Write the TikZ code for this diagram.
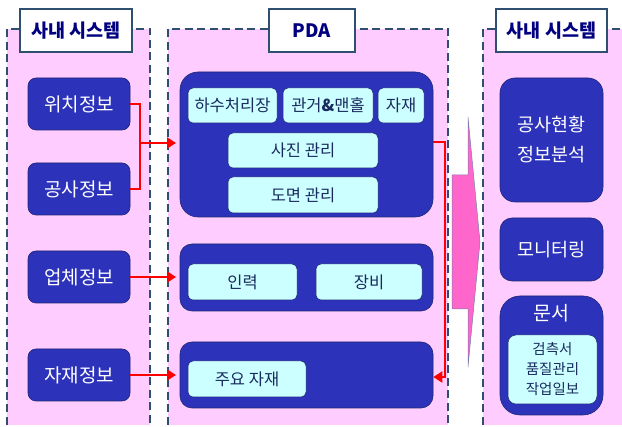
\documentclass[tikz,border=0pt]{standalone}
\usepackage{fontspec}
\setmainfont{Noto Sans CJK KR}
\usetikzlibrary{arrows.meta}
\definecolor{panelpink}{HTML}{FFCCFF}
\definecolor{dashcol}{HTML}{2F4F70}
\definecolor{darkblue}{HTML}{2C32BA}
\definecolor{darkedge}{HTML}{1E2770}
\definecolor{lightcyan}{HTML}{CCFFFF}
\definecolor{navytext}{HTML}{000080}
\definecolor{cyantext}{HTML}{1A2A5E}
\definecolor{arrowpink}{HTML}{FF66CC}
\definecolor{brightred}{HTML}{FF0000}
\tikzset{
  panelfill/.style={fill=panelpink, draw=none},
  paneledge/.style={draw=dashcol, line width=1.6pt, dash pattern=on 8pt off 4.5pt},
  titlebox/.style={draw=dashcol, line width=1.5pt, fill=white, inner sep=0pt,
    text=navytext, font=\fontsize{18.5}{20}\selectfont\bfseries},
  darkbox/.style={draw=darkedge, line width=0.6pt, fill=darkblue, inner sep=0pt,
    rounded corners=8pt, text=white, font=\fontsize{19}{20}\selectfont},
  groupbox/.style={draw=darkedge, line width=0.6pt, fill=darkblue, inner sep=0pt, rounded corners=14pt},
  cyanbox/.style={draw=darkedge, line width=0.5pt, fill=lightcyan, inner sep=0pt,
    rounded corners=5pt, text=cyantext, font=\fontsize{16.5}{18}\selectfont},
  redline/.style={draw=brightred, line width=2pt},
  redarrow/.style={redline, -{Triangle[length=9pt,width=11pt]}},
}
\begin{document}
\begin{tikzpicture}[x=1pt,y=-1pt]
\useasboundingbox (0,0) rectangle (622,427);
% panels
\fill[panelfill] (7,29) rectangle (150,425);
\fill[panelfill] (168,29) rectangle (448,425);
\fill[panelfill] (483,29) rectangle (626,425);
\draw[paneledge] (7,425) -- (7,29) -- (150,29) -- (150,425);
\draw[paneledge] (168,425) -- (168,29) -- (448,29) -- (448,425);
\draw[paneledge] (483,425) -- (483,29) -- (626,29);
% titles
\node[titlebox, minimum width=112pt, minimum height=43pt] (tL) at (76,30.5) {사내 시스템};
\node[titlebox, minimum width=86pt, minimum height=43pt] (tP) at (312,30.5) {PDA};
\node[titlebox, minimum width=111pt, minimum height=43pt] (tR) at (551.5,30.5) {사내 시스템};
% left boxes
\node[darkbox, minimum width=102pt, minimum height=52pt] (wi) at (79,104) {위치정보};
\node[darkbox, minimum width=102pt, minimum height=52pt] (gong) at (79,189) {공사정보};
\node[darkbox, minimum width=102pt, minimum height=52pt] (up) at (79,277) {업체정보};
\node[darkbox, minimum width=102pt, minimum height=52pt] (ja) at (79,375) {자재정보};
% PDA groups
\node[groupbox, rounded corners=18pt, minimum width=253pt, minimum height=145pt] (g1) at (306.5,144.5) {};
\node[groupbox, rounded corners=12pt, minimum width=253pt, minimum height=67pt] (g2) at (306.5,277.5) {};
\node[groupbox, rounded corners=12pt, minimum width=253pt, minimum height=66pt] (g3) at (306.5,375) {};
\node[cyanbox, minimum width=89pt, minimum height=35pt] (hasu) at (232.5,105.5) {하수처리장};
\node[cyanbox, minimum width=90pt, minimum height=35pt] (gwan) at (328,105.5) {관거{\bfseries\&}맨홀};
\node[cyanbox, minimum width=46pt, minimum height=35pt] (jajae) at (401,105.5) {자재};
\node[cyanbox, minimum width=150pt, minimum height=35pt] (sajin) at (303,150.5) {사진 관리};
\node[cyanbox, minimum width=150pt, minimum height=36pt] (domyeon) at (303,195) {도면 관리};
\node[cyanbox, minimum width=109pt, minimum height=36pt] (inryeok) at (242.5,282) {인력};
\node[cyanbox, minimum width=106pt, minimum height=36pt] (jangbi) at (369,282) {장비};
\node[cyanbox, minimum width=118pt, minimum height=36pt] (juyo) at (247,379) {주요 자재};
% big arrow
\draw[fill=arrowpink, draw=darkedge!60, line width=0.5pt]
  (452,175) -- (468,175) -- (468,117) -- (480,242) -- (468,367) -- (468,309) -- (452,309) -- cycle;
% right boxes
\node[darkbox, rounded corners=15pt, minimum width=103pt, minimum height=124pt, align=center,
  font=\fontsize{18.5}{30}\selectfont] (hyeon) at (551.5,140) {공사현황\\정보분석};
\node[darkbox, rounded corners=12pt, minimum width=103pt, minimum height=63pt,
  font=\fontsize{18.5}{20}\selectfont] (moni) at (551.5,249.5) {모니터링};
\node[darkbox, rounded corners=20pt, minimum width=103pt, minimum height=119pt] (munseo) at (551.5,355.5) {};
\node[text=white, inner sep=0pt, font=\fontsize{19.5}{20}\selectfont] (munlbl) at (551.5,313) {문서};
\node[cyanbox, rounded corners=8pt, minimum width=89pt, minimum height=69pt, align=center,
  font=\fontsize{14.5}{20}\selectfont] (docs) at (552.5,369.5) {검측서\\품질관리\\작업일보};
% connectors
\coordinate (jn) at (140,143);
\coordinate (tip1) at (176,143);
\coordinate (tip2) at (176,277);
\coordinate (tip3) at (176,375);
\coordinate (rtop) at (445,142);
\coordinate (rbot) at (445,377);
\draw[redline] (wi.east) -| (jn) |- (gong.east);
\draw[redarrow] (jn) -- (tip1);
\draw[redarrow] (up.east) -- (tip2);
\draw[redarrow] (ja.east) -- (tip3);
\draw[redarrow] (g1.east |- rtop) -- (rtop) -- (rbot) -- (g3.east |- rbot);
\end{tikzpicture}
\end{document}
